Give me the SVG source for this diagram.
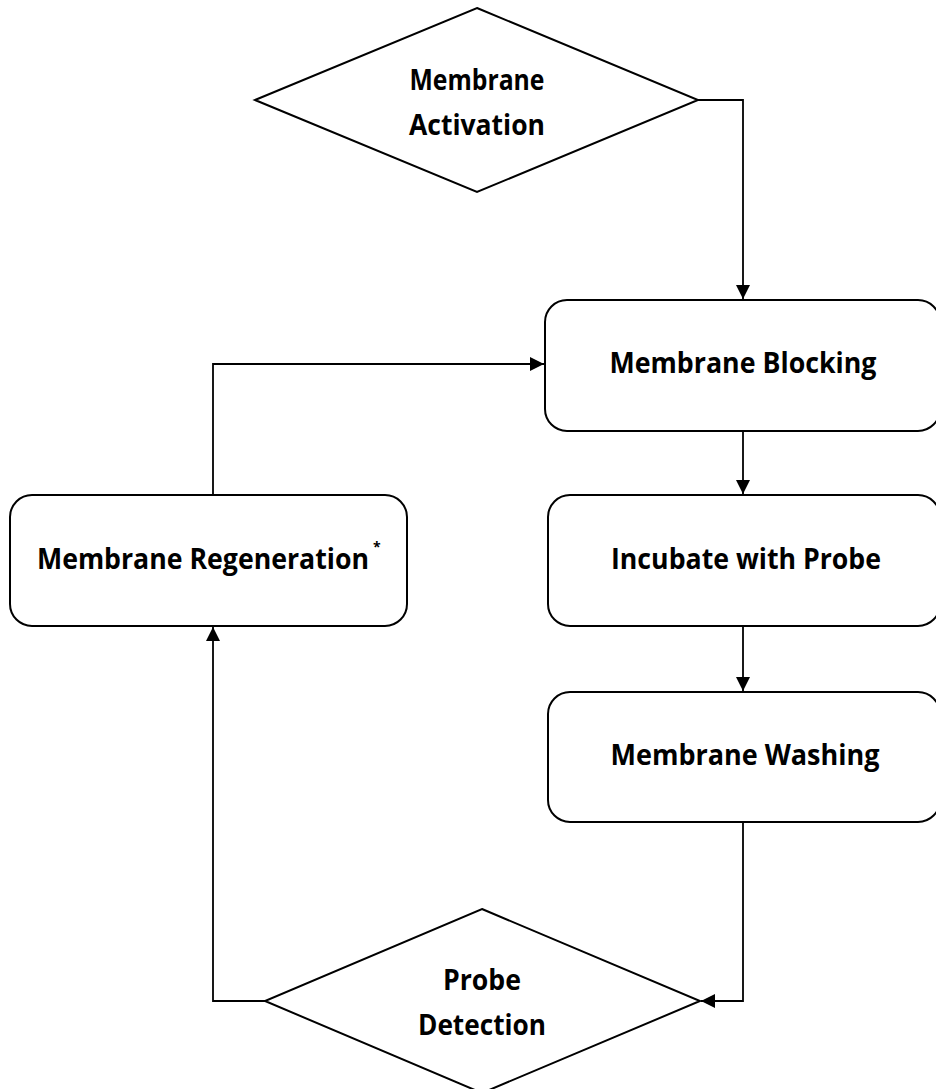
<svg xmlns="http://www.w3.org/2000/svg" width="936" height="1089" viewBox="0 0 936 1089">
<style>
.shape{fill:#fff;stroke:#000;stroke-width:2}
.conn{fill:none;stroke:#000;stroke-width:1.8}
.lbl{font-family:"Open Sans","Liberation Sans",sans-serif;font-weight:bold;font-size:28px;fill:#000;text-anchor:middle}
.sup{font-family:"Open Sans","Liberation Sans",sans-serif;font-weight:bold;font-size:14px;fill:#000}
</style>
<defs>
<marker id="arr" viewBox="0 0 14 14" refX="14" refY="7" markerWidth="14" markerHeight="14" markerUnits="userSpaceOnUse" orient="auto">
<path d="M0,0 L14,7 L0,14 Z" fill="#000"/>
</marker>
</defs>
<rect width="936" height="1089" fill="#fff"/>
<g id="connectors">
<path class="conn" d="M698,100 H743 V299" marker-end="url(#arr)"/>
<path class="conn" d="M743,431 V494" marker-end="url(#arr)"/>
<path class="conn" d="M743,626 V691" marker-end="url(#arr)"/>
<path class="conn" d="M743,822 V1001 H701" marker-end="url(#arr)"/>
<path class="conn" d="M265,1001 H213 V627" marker-end="url(#arr)"/>
<path class="conn" d="M213,495 V364 H544" marker-end="url(#arr)"/>
</g>
<g id="activation">
<polygon class="shape" points="477,8 698,100 477,192 255,100"/>
<text class="lbl" x="477" y="90" textLength="135" lengthAdjust="spacingAndGlyphs">Membrane</text>
<text class="lbl" x="477" y="135" textLength="136" lengthAdjust="spacingAndGlyphs">Activation</text>
</g>
<g id="blocking">
<rect class="shape" x="545" y="300" width="395" height="131" rx="22"/>
<text class="lbl" x="743" y="373" textLength="267" lengthAdjust="spacingAndGlyphs">Membrane Blocking</text>
</g>
<g id="incubate">
<rect class="shape" x="548" y="495" width="392" height="131" rx="22"/>
<text class="lbl" x="746" y="569" textLength="270" lengthAdjust="spacingAndGlyphs">Incubate with Probe</text>
</g>
<g id="washing">
<rect class="shape" x="548" y="692" width="392" height="130" rx="22"/>
<text class="lbl" x="745" y="765" textLength="269" lengthAdjust="spacingAndGlyphs">Membrane Washing</text>
</g>
<g id="regeneration">
<rect class="shape" x="10" y="495" width="397" height="131" rx="22"/>
<text class="lbl" x="203" y="569" textLength="332" lengthAdjust="spacingAndGlyphs">Membrane Regeneration</text>
<text class="sup" x="373" y="552">*</text>
</g>
<g id="detection">
<polygon class="shape" points="482,909 700,1001 482,1093 265,1001"/>
<text class="lbl" x="482" y="990" textLength="78" lengthAdjust="spacingAndGlyphs">Probe</text>
<text class="lbl" x="482" y="1035" textLength="128" lengthAdjust="spacingAndGlyphs">Detection</text>
</g>
</svg>
